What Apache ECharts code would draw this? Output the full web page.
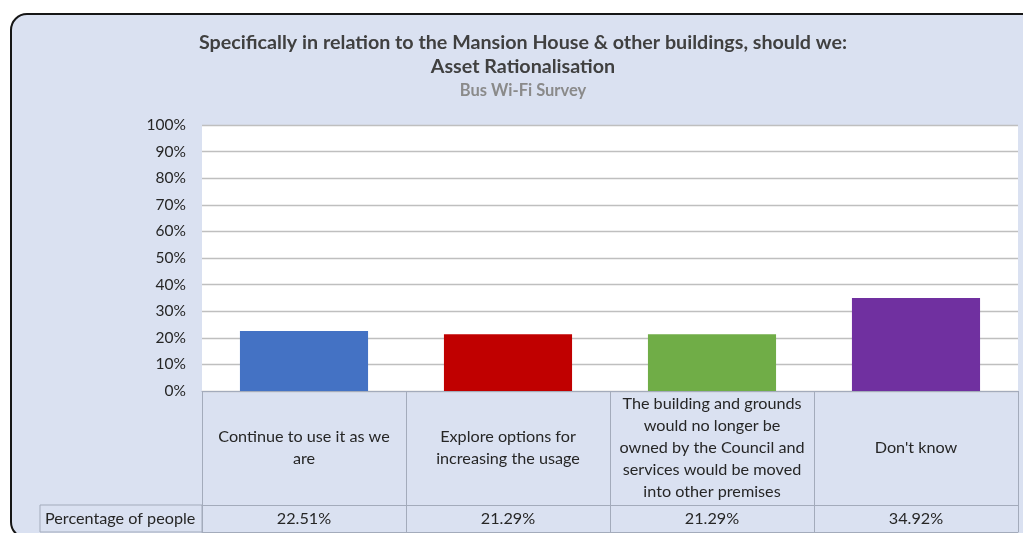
<!DOCTYPE html>
<html><head><meta charset="utf-8">
<script src="https://cdn.jsdelivr.net/npm/echarts@6/dist/echarts.min.js"></script>
<style>
html,body{margin:0;padding:0;background:#fff;overflow:hidden;}
#wrap{position:relative;width:1023px;height:533px;overflow:hidden;}
#box{position:absolute;left:10px;top:13px;width:1040px;height:522px;border:2.5px solid #161616;border-radius:17px;background:#dae1f1;}
#c{position:absolute;left:0;top:0;width:1023px;height:533px;}
</style>
</head><body><div id="wrap"><div id="box"></div><div id="c"></div></div>
<script>
const titleLines = ['Specifically in relation to the Mansion House & other buildings, should we:', 'Asset Rationalisation'];
const subtitle = 'Bus Wi-Fi Survey';
const categories = [
  'Continue to use it as we\nare',
  'Explore options for\nincreasing the usage',
  'The building and grounds\nwould no longer be\nowned by the Council and\nservices would be moved\ninto other premises',
  "Don't know"
];
const values = [22.51, 21.29, 21.29, 34.92];
const colors = ['#4472c4', '#c00000', '#70ad47', '#7030a0'];
const rowHeader = 'Percentage of people';
const yMin = 0, yMax = 100, yStep = 10;

const FONT = 'Lato, "Open Sans", sans-serif';
const TXT = '#404040';
const TABLE = '#a3abbb';

const chart = echarts.init(document.getElementById('c'), null, {renderer: 'canvas'});
chart.setOption({
  backgroundColor: 'transparent',
  animation: false,
  textStyle: {fontFamily: FONT},
  grid: {left: 202, right: 5, top: 125, bottom: 142, show: true, backgroundColor: '#ffffff', borderWidth: 0},
  graphic: [
    {type: 'text', style: {x: 523, y: 43, text: titleLines[0], textAlign: 'center', textVerticalAlign: 'middle', fill: TXT, font: 'bold 19.7px ' + FONT}},
    {type: 'text', style: {x: 523, y: 67, text: titleLines[1], textAlign: 'center', textVerticalAlign: 'middle', fill: TXT, font: 'bold 19.7px ' + FONT}},
    {type: 'text', style: {x: 523, y: 91, text: subtitle, textAlign: 'center', textVerticalAlign: 'middle', fill: '#8a8a8a', font: 'bold 16.5px ' + FONT}},
    {type: 'rect', shape: {x: 40, y: 505, width: 162, height: 27}, style: {fill: 'none', stroke: TABLE, lineWidth: 1}},
    {type: 'text', style: {x: 45, y: 519, text: rowHeader, textAlign: 'left', textVerticalAlign: 'middle', fill: '#262626', font: '16.2px ' + FONT}}
  ],
  xAxis: [
    {
      type: 'category', data: categories, position: 'bottom',
      axisLine: {show: true, lineStyle: {color: TABLE, width: 1}},
      axisTick: {show: true, length: 141, lineStyle: {color: TABLE, width: 1}},
      axisLabel: {interval: 0, margin: 57, verticalAlign: 'middle', align: 'center', lineHeight: 22, fontSize: 16.2, color: '#262626', fontFamily: FONT}
    },
    {
      type: 'category', data: values.map(v => v.toFixed(2) + '%'), position: 'bottom', offset: 114,
      axisLine: {show: true, lineStyle: {color: TABLE, width: 1}},
      axisTick: {show: false},
      axisLabel: {interval: 0, margin: 14, verticalAlign: 'middle', fontSize: 16.2, color: '#262626', fontFamily: FONT}
    },
    {
      type: 'category', data: categories.map(() => ''), position: 'bottom', offset: 141,
      axisLine: {show: true, lineStyle: {color: TABLE, width: 1}},
      axisTick: {show: false}, axisLabel: {show: false}
    }
  ],
  yAxis: {
    type: 'value', min: yMin, max: yMax, interval: yStep,
    axisLine: {show: false}, axisTick: {show: false},
    axisLabel: {formatter: '{value}%', margin: 16, fontSize: 15.5, color: '#262626', fontFamily: FONT},
    splitLine: {show: true, lineStyle: {color: '#bfbfbf', width: 1.3}}
  },
  series: [{
    type: 'bar', xAxisIndex: 0,
    data: values.map((v, i) => ({value: v, itemStyle: {color: colors[i]}})),
    barWidth: '62.8%'
  }]
});
</script>
</body></html>
